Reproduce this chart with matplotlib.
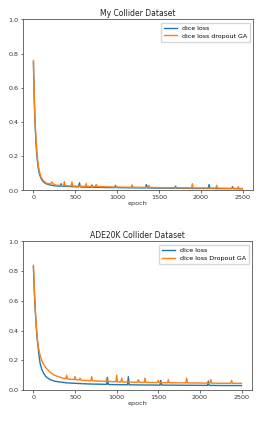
import matplotlib
matplotlib.use("Agg")
import matplotlib.pyplot as plt

# ---- Top chart: My Collider Dataset ----
top_title = "My Collider Dataset"
top_labels = ["dice loss", "dice loss dropout GA"]
top_blue_x = [0,5,10,15,20,25,30,40,50,60,70,80,90,100,120,140,160,180,200,250,300,320,330,340,400,450,500,540,550,560,600,690,700,710,800,900,970,980,990,1100,1200,1340,1350,1360,1500,1600,1690,1700,1710,1800,1900,2000,2090,2100,2110,2200,2300,2370,2380,2390,2499]
top_blue_y = [0.75,0.62,0.52,0.44,0.38,0.33,0.28,0.21,0.16,0.125,0.10,0.085,0.072,0.062,0.05,0.043,0.038,0.035,0.032,0.028,0.026,0.025,0.04,0.025,0.024,0.023,0.022,0.021,0.045,0.021,0.02,0.019,0.032,0.019,0.018,0.017,0.017,0.03,0.017,0.016,0.016,0.015,0.035,0.015,0.014,0.014,0.013,0.025,0.013,0.013,0.012,0.012,0.012,0.035,0.012,0.011,0.011,0.011,0.022,0.011,0.01]
top_orange_x = [0,5,10,15,20,25,30,40,50,60,70,80,90,100,120,140,160,180,200,220,250,300,360,370,380,450,460,470,550,620,630,640,740,750,760,900,1000,1170,1180,1190,1370,1380,1390,1500,1700,1890,1900,1910,2000,2180,2190,2200,2300,2440,2450,2460,2499]
top_orange_y = [0.76,0.64,0.55,0.47,0.40,0.35,0.30,0.23,0.18,0.14,0.115,0.095,0.08,0.07,0.057,0.048,0.042,0.04,0.038,0.05,0.033,0.03,0.028,0.052,0.028,0.026,0.05,0.026,0.025,0.024,0.04,0.024,0.023,0.036,0.023,0.021,0.02,0.019,0.032,0.019,0.018,0.03,0.018,0.017,0.016,0.015,0.04,0.015,0.015,0.014,0.03,0.014,0.013,0.012,0.022,0.012,0.012]

# ---- Bottom chart: ADE20K Collider Dataset ----
bot_title = "ADE20K Collider Dataset"
bot_labels = ["dice loss", "dice loss Dropout GA"]
bot_blue_x = [0,10,20,30,40,50,60,70,80,100,120,150,200,250,300,400,500,600,700,880,890,900,1000,1130,1140,1150,1300,1520,1530,1540,1800,2090,2100,2110,2300,2499]
bot_blue_y = [0.83,0.68,0.56,0.46,0.38,0.32,0.27,0.22,0.18,0.14,0.115,0.09,0.07,0.06,0.055,0.048,0.045,0.042,0.04,0.038,0.085,0.037,0.036,0.035,0.09,0.035,0.034,0.033,0.065,0.033,0.032,0.031,0.06,0.031,0.03,0.03]
bot_orange_x = [0,10,20,30,40,50,60,70,80,100,120,150,200,250,300,350,390,400,410,490,500,510,550,560,570,690,700,710,800,870,880,890,990,1000,1010,1050,1060,1070,1250,1260,1270,1330,1340,1350,1490,1500,1510,1610,1620,1630,1830,1840,1850,2000,2120,2130,2140,2370,2380,2390,2499]
bot_orange_y = [0.84,0.69,0.57,0.47,0.39,0.33,0.29,0.26,0.235,0.2,0.175,0.15,0.12,0.1,0.09,0.08,0.075,0.1,0.074,0.07,0.09,0.069,0.068,0.08,0.067,0.062,0.09,0.062,0.06,0.058,0.08,0.058,0.055,0.1,0.055,0.054,0.08,0.054,0.052,0.07,0.052,0.051,0.08,0.051,0.05,0.065,0.05,0.049,0.07,0.049,0.048,0.08,0.048,0.047,0.046,0.07,0.046,0.045,0.065,0.045,0.045]

xticks = [0, 500, 1000, 1500, 2000, 2500]
yticks = [0.0, 0.2, 0.4, 0.6, 0.8, 1.0]

fig = plt.figure(figsize=(2.59, 4.23), dpi=100)
W, H = 259, 423

def make_ax(left, top, right, bottom):
    return fig.add_axes([left / W, 1 - bottom / H, (right - left) / W, (bottom - top) / H])

ax1 = make_ax(23, 19.5, 253, 190.5)
ax2 = make_ax(23, 241.5, 252, 390)

for ax, title, labels, bx, by, ox, oy in [
    (ax1, top_title, top_labels, top_blue_x, top_blue_y, top_orange_x, top_orange_y),
    (ax2, bot_title, bot_labels, bot_blue_x, bot_blue_y, bot_orange_x, bot_orange_y),
]:
    ax.plot(bx, by, color="#1f77b4", lw=1.0, label=labels[0])
    ax.plot(ox, oy, color="#ff7f0e", lw=1.0, label=labels[1])
    ax.set_ylim(0, 1.0)
    ax.set_xlim(-125, 2625)
    ax.set_xticks(xticks)
    ax.set_yticks(yticks)
    ax.tick_params(labelsize=4.6, length=1.8, width=0.5, pad=1.5, colors="#333333")
    for s in ax.spines.values():
        s.set_linewidth(0.6)
        s.set_color("#555555")
    ax.set_title(title, fontsize=5.5, pad=2.5, color="#222222")
    ax.set_xlabel("epoch", fontsize=4.6, labelpad=1, color="#333333")
    ax.legend(loc="upper right", fontsize=4.5, handlelength=2.0, borderpad=0.5,
              labelspacing=0.35, framealpha=0.8, edgecolor="#cccccc", fancybox=True)

fig.savefig("out.png", dpi=100)
